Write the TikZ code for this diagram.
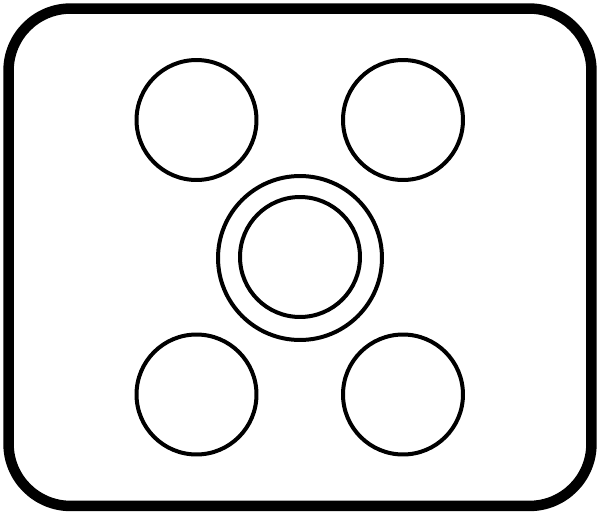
\documentclass[tikz,border=0pt]{standalone}
\begin{document}
\begin{tikzpicture}[x=0.02cm, y=-0.02cm,
    hole/.style={circle, draw, line width=0.08cm, minimum size=2.4cm, inner sep=0pt}]
    \useasboundingbox (0,0) rectangle (600,514);
    
    \node[rectangle, draw, rounded corners=1.24cm, line width=0.21cm,
        minimum width=11.66cm, minimum height=9.95cm] (plate) at (300,257.25) {};
    \node[hole] (holeTL) at (196.5,120) {};
    \node[hole] (holeTR) at (403,120) {};
    \node[hole] (holeBL) at (196.5,394.5) {};
    \node[hole] (holeBR) at (403,394.5) {};
    \node[circle, draw, line width=0.08cm, minimum size=3.28cm, inner sep=0pt] (hubRing) at (300,258) {};
    \node[hole] (hub) at (300,257) {};
    \end{tikzpicture}
\end{document}
